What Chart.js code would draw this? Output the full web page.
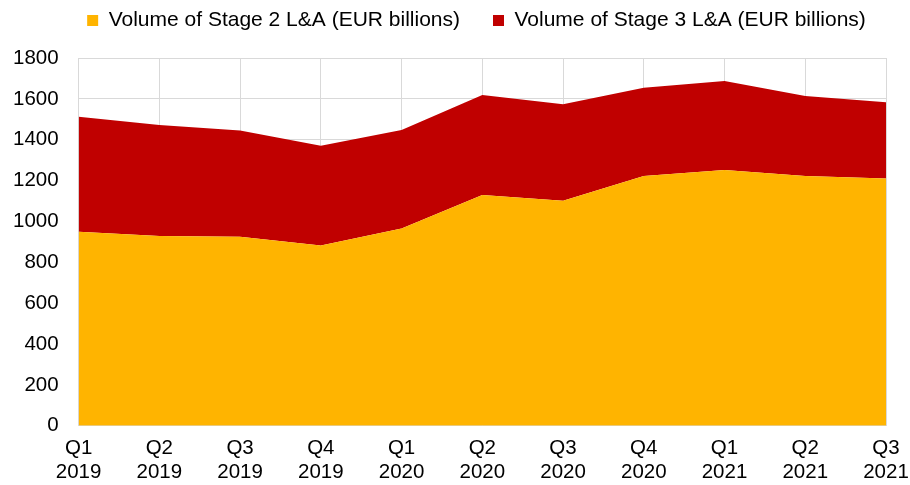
<!DOCTYPE html>
<html>
<head>
<meta charset="utf-8">
<script src="https://cdn.jsdelivr.net/npm/chart.js@4/dist/chart.umd.min.js"></script>
<style>
  html, body { margin: 0; padding: 0; background: #fff; }
  #wrap { width: 910px; height: 485px; }
</style>
</head>
<body>
<div id="wrap"><canvas id="chart"></canvas></div>
<script>
// quarters on the x axis
var quarters = [
  ['Q1', '2019'], ['Q2', '2019'], ['Q3', '2019'], ['Q4', '2019'],
  ['Q1', '2020'], ['Q2', '2020'], ['Q3', '2020'], ['Q4', '2020'],
  ['Q1', '2021'], ['Q2', '2021'], ['Q3', '2021']
];
// EUR billions
var stage2 = [950, 929, 925, 882, 965, 1130, 1101, 1223, 1252, 1223, 1210];
var stage3 = [563, 543, 520, 489, 483, 489, 473, 432, 436, 391, 373];

Chart.defaults.font.family = '"Liberation Sans", Arial, sans-serif';
Chart.defaults.font.size = 20.5;
Chart.defaults.color = '#000';

// more room under the legend, and nudge it right
var legendGap = {
  id: 'legendGap',
  beforeInit: function (chart) {
    var fit = chart.legend.fit;
    chart.legend.fit = function () {
      fit.bind(chart.legend)();
      this.height += 17;
    };
  },
  afterLayout: function (chart) {
    chart.legend.left += 25;
    chart.legend.right += 25;
  }
};

var ctx = document.getElementById('chart');
var chart = new Chart(ctx, {
  type: 'line',
  data: {
    labels: quarters,
    datasets: [{
      label: 'Volume of Stage 2 L&A (EUR billions)',
      data: stage2,
      backgroundColor: '#FFB400',
      borderColor: '#FFB400',
      borderWidth: 0,
      pointRadius: 0,
      fill: 'origin'
    }, {
      label: 'Volume of Stage 3 L&A (EUR billions)',
      data: stage3,
      backgroundColor: '#C00000',
      borderColor: '#C00000',
      borderWidth: 0,
      pointRadius: 0,
      fill: '-1'
    }]
  },
  options: {
    responsive: true,
    maintainAspectRatio: false,
    animation: false,
    layout: { padding: { left: -7, right: 0, top: -23, bottom: -10 } },
    plugins: {
      legend: {
        position: 'top',
        labels: { boxWidth: 11, boxHeight: 11, padding: 33, color: '#000', font: { size: 21 } }
      },
      tooltip: { enabled: false }
    },
    scales: {
      x: {
        offset: false,
        grid: { color: '#d9d9d9', drawTicks: false },
        border: { color: '#d9d9d9' },
        ticks: { padding: 10, maxRotation: 0, autoSkip: false },
        afterFit: function (scale) { scale.paddingRight = 24; }
      },
      y: {
        stacked: true,
        min: 0,
        max: 1800,
        grid: { color: '#d9d9d9', drawTicks: false },
        border: { color: '#d9d9d9' },
        ticks: { stepSize: 200, padding: 20, callback: function (v) { return String(v); } }
      }
    }
  },
  plugins: [legendGap]
});
</script>
</body>
</html>
